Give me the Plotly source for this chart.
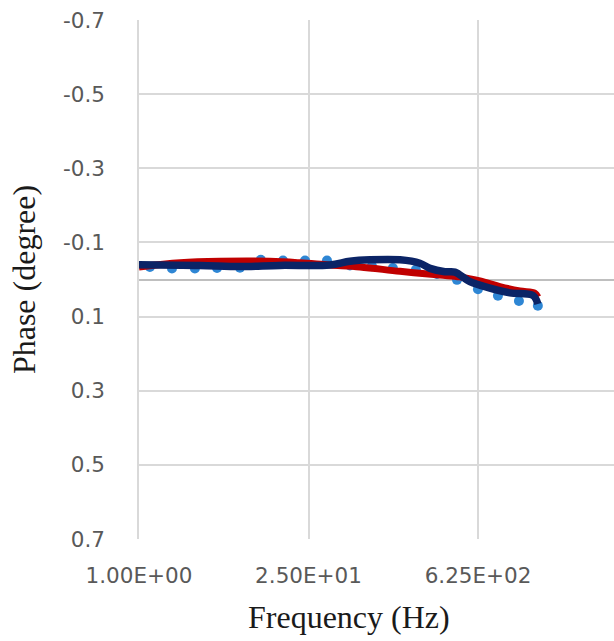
import plotly.graph_objects as go

# Measured phase (dots)
freq_meas = [1.23, 1.87, 2.89, 4.40, 6.80, 10.1, 15.4, 23.4, 35.5, 54.9,
             83.3, 124, 192, 286, 419, 624, 912, 1358, 1946]
phase_meas = [-0.034, -0.030, -0.030, -0.031, -0.032, -0.053, -0.051, -0.051,
              -0.051, -0.038, -0.036, -0.031, -0.026, -0.015, 0.001, 0.026,
              0.044, 0.058, 0.071]

# Model fit (red)
freq_fit = [1.0, 2.18, 4.65, 12.0, 21.2, 37.5, 66.4, 142, 303, 443, 648, 946,
            1383, 1840, 1946]
phase_fit = [-0.034, -0.045, -0.049, -0.049, -0.045, -0.039, -0.034, -0.022,
             -0.012, -0.007, 0.004, 0.019, 0.031, 0.037, 0.047]

# Simulated phase (navy)
freq_sim = [1.0, 3.18, 6.80, 14.5, 37.5, 54.9, 80.2, 142, 207, 251, 333, 403,
            535, 783, 1145, 1771, 1946]
phase_sim = [-0.040, -0.038, -0.035, -0.038, -0.039, -0.049, -0.053, -0.053,
             -0.044, -0.030, -0.021, -0.020, 0.006, 0.023, 0.036, 0.043, 0.066]

x_ticks = [1, 25, 625]
x_labels = ["1.00E+00", "2.50E+01", "6.25E+02"]
y_ticks = [-0.7, -0.5, -0.3, -0.1, 0.1, 0.3, 0.5, 0.7]
y_labels = ["-0.7", "-0.5", "-0.3", "-0.1", "0.1", "0.3", "0.5", "0.7"]

fig = go.Figure()
fig.add_trace(go.Scatter(x=freq_meas, y=phase_meas, mode="markers",
                         marker=dict(size=10, color="#2E86D4"),
                         showlegend=False))
fig.add_trace(go.Scatter(x=freq_fit, y=phase_fit, mode="lines",
                         line=dict(color="#C00000", width=7, shape="spline"),
                         showlegend=False))
fig.add_trace(go.Scatter(x=freq_sim, y=phase_sim, mode="lines",
                         line=dict(color="#0B2466", width=7.5, shape="spline"),
                         showlegend=False))

tick_font = dict(family="DejaVu Sans", size=21.5, color="#595959")
title_font = dict(family="Liberation Serif", size=32, color="#1a1a1a")

fig.update_layout(
    width=614, height=641,
    margin=dict(l=139, r=0, t=20, b=102),
    paper_bgcolor="white", plot_bgcolor="white",
    xaxis=dict(type="log", range=[0, 3.917], tickvals=x_ticks, ticktext=x_labels,
               showgrid=True, gridcolor="#D9D9D9", gridwidth=1.5,
               zeroline=False, showline=False, ticks="",
               ticklabelstandoff=21, tickfont=tick_font),
    yaxis=dict(range=[0.7, -0.7], tickvals=y_ticks, ticktext=y_labels,
               showgrid=True, gridcolor="#D9D9D9", gridwidth=1.5,
               zeroline=True, zerolinecolor="#BFBFBF", zerolinewidth=1.5,
               showline=True, linecolor="#D9D9D9", linewidth=1.5,
               ticks="", ticklabelstandoff=28, tickfont=tick_font,
               title=dict(text="Phase (degree)", font=title_font, standoff=18)),
    annotations=[dict(text="Frequency (Hz)", xref="paper", yref="paper",
                      x=0.442, y=-0.150, xanchor="center", yanchor="middle",
                      showarrow=False, font=title_font)],
)

fig.write_html("out.html")
